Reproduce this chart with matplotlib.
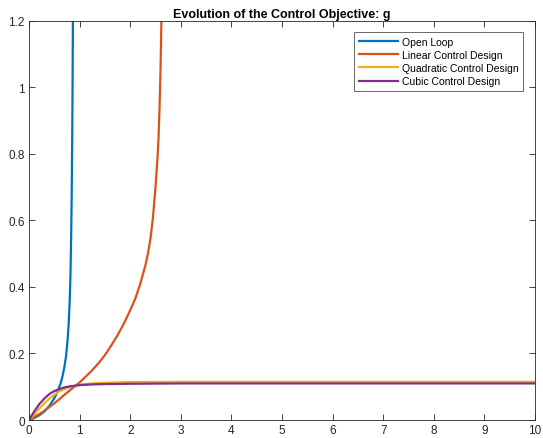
import matplotlib
matplotlib.use("Agg")
import matplotlib.pyplot as plt

plt.rcParams['font.family'] = ['Liberation Sans', 'DejaVu Sans']

# values
t_open = [0, 0.1, 0.2, 0.3, 0.4, 0.47, 0.52, 0.57, 0.62, 0.66, 0.7, 0.73,
          0.76, 0.785, 0.805, 0.82, 0.833, 0.844, 0.853, 0.86, 0.866, 0.871]
g_open = [0, 0.006, 0.014, 0.025, 0.042, 0.058, 0.071, 0.088, 0.108, 0.13,
          0.16, 0.19, 0.235, 0.29, 0.36, 0.44, 0.55, 0.68, 0.83, 0.98, 1.15, 1.35]

t_lin = [0, 0.25, 0.5, 0.75, 1.0, 1.125, 1.25, 1.375, 1.5, 1.625, 1.75, 1.875,
         2.0, 2.1, 2.2, 2.3, 2.35, 2.4, 2.45, 2.5, 2.54, 2.56, 2.58, 2.6,
         2.62, 2.635]
g_lin = [0, 0.022, 0.05, 0.082, 0.113, 0.131, 0.15, 0.171, 0.195, 0.224,
         0.255, 0.29, 0.33, 0.365, 0.41, 0.465, 0.50, 0.545, 0.61, 0.70, 0.79,
         0.85, 0.94, 1.06, 1.23, 1.4]

t_quad = [0, 0.1, 0.2, 0.3, 0.4, 0.5, 0.6, 0.7, 0.8, 1.0, 1.25, 1.5, 2, 3, 10]
g_quad = [0, 0.017, 0.034, 0.05, 0.064, 0.076, 0.086, 0.093, 0.099, 0.106,
          0.110, 0.112, 0.114, 0.115, 0.115]

t_cub = [0, 0.1, 0.2, 0.3, 0.4, 0.5, 0.6, 0.7, 0.8, 1.0, 1.25, 1.5, 2, 3, 10]
g_cub = [0, 0.025, 0.047, 0.064, 0.078, 0.087, 0.093, 0.098, 0.101, 0.105,
         0.107, 0.108, 0.109, 0.110, 0.110]

labels = ['Open Loop', 'Linear Control Design', 'Quadratic Control Design',
          'Cubic Control Design']
colors = ['#0072BD', '#D95319', '#EDB120', '#7E2F8E']

fig = plt.figure(figsize=(5.43, 4.39), dpi=100)
ax = fig.add_axes([0.0534, 0.041, 0.932, 0.909])

series = [(t_open, g_open), (t_lin, g_lin), (t_quad, g_quad), (t_cub, g_cub)]
for (t, g), lab, c in zip(series, labels, colors):
    ax.plot(t, g, color=c, lw=1.6, label=lab, solid_joinstyle='round')

ax.set_xlim(0, 10)
ax.set_ylim(0, 1.2)
ax.set_xticks(range(11))
yt = [0, 0.2, 0.4, 0.6, 0.8, 1, 1.2]
ax.set_yticks(yt, labels=['0', '0.2', '0.4', '0.6', '0.8', '1', '1.2'])
ax.tick_params(direction='in', top=True, right=True, length=4, width=0.6,
               labelsize=8.5, colors='#262626', pad=3)
for s in ax.spines.values():
    s.set_linewidth(0.6)
    s.set_color('#262626')

ax.set_title('Evolution of the Control Objective: g', fontsize=9,
             fontweight='bold', pad=3)
leg = ax.legend(loc='upper right', fontsize=7.5, frameon=True, fancybox=False,
                edgecolor='#262626', handlelength=3.8, handletextpad=0.3,
                borderpad=0.45, labelspacing=0.3, borderaxespad=0,
                bbox_to_anchor=(0.976, 0.972))
leg.get_frame().set_linewidth(0.6)

fig.savefig('out.png', dpi=100)
